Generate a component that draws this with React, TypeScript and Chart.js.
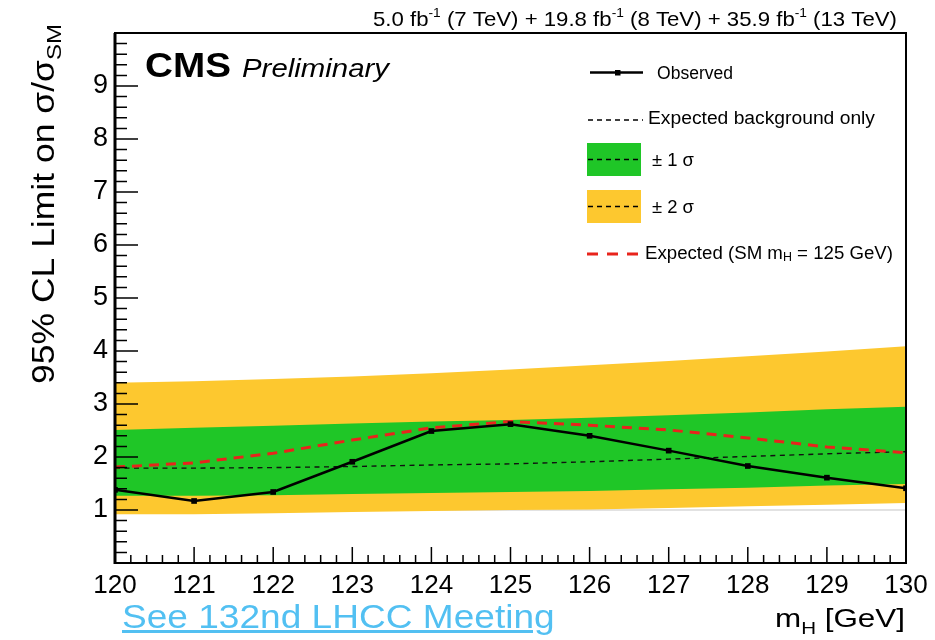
import React, { useEffect, useRef } from 'react';
import { Chart, registerables } from 'chart.js';

Chart.register(...registerables);

// ---------------- data ----------------
const masses = [120, 121, 122, 123, 124, 125, 126, 127, 128, 129, 130];
const observed = [1.38, 1.17, 1.34, 1.91, 2.49, 2.62, 2.40, 2.12, 1.83, 1.61, 1.41];
const expectedBkg = [1.79, 1.79, 1.80, 1.82, 1.85, 1.87, 1.91, 1.96, 2.01, 2.06, 2.10];
const expectedSM = [1.81, 1.89, 2.07, 2.32, 2.55, 2.67, 2.60, 2.51, 2.36, 2.19, 2.08];
const band1Up = [2.51, 2.55, 2.59, 2.63, 2.67, 2.70, 2.74, 2.79, 2.84, 2.90, 2.95];
const band1Lo = [1.27, 1.27, 1.28, 1.30, 1.32, 1.34, 1.36, 1.39, 1.42, 1.46, 1.49];
const band2Up = [3.40, 3.43, 3.47, 3.52, 3.58, 3.65, 3.73, 3.81, 3.90, 3.99, 4.09];
const band2Lo = [0.92, 0.92, 0.94, 0.96, 0.98, 1.00, 1.01, 1.04, 1.07, 1.10, 1.13];
const smRef = [1, 1, 1, 1, 1, 1, 1, 1, 1, 1, 1];

const xMin = 120;
const xMax = 130;
const yMin = 0;
const yMax = 10;
const hiddenYLabels = [0, 10];

const titleText = ['5.0 fb', '-1', ' (7 TeV) + 19.8 fb', '-1', ' (8 TeV) + 35.9 fb', '-1', ' (13 TeV)'];
const legendLabels = ['Observed', 'Expected background only', '\u00b1 1 \u03c3', '\u00b1 2 \u03c3'];

const GREEN = '#1fc627';
const YELLOW = '#fdc82f';
const RED = '#e8241c';
const FONT = "'Liberation Sans', Arial, Helvetica, sans-serif";

type Seg = { t: string; size: number; weight?: string; style?: string; dy?: number };

function fontOf(s: Seg) {
  return `${s.style || 'normal'} ${s.weight || 'normal'} ${s.size}px ${FONT}`;
}

function drawRich(
  ctx: CanvasRenderingContext2D,
  segs: Seg[],
  x: number,
  y: number,
  opts: { width?: number; align?: 'left' | 'right' | 'center'; rotate?: number; color?: string } = {}
) {
  ctx.save();
  ctx.translate(x, y);
  if (opts.rotate) ctx.rotate(opts.rotate);
  let total = 0;
  const ws = segs.map((s) => {
    ctx.font = fontOf(s);
    const w = ctx.measureText(s.t).width;
    total += w;
    return w;
  });
  const sx = opts.width ? opts.width / total : 1;
  const dw = total * sx;
  const start = opts.align === 'right' ? -dw : opts.align === 'center' ? -dw / 2 : 0;
  ctx.translate(start, 0);
  ctx.scale(sx, 1);
  ctx.fillStyle = opts.color || '#000';
  ctx.textAlign = 'left';
  ctx.textBaseline = 'alphabetic';
  let cx = 0;
  segs.forEach((s, i) => {
    ctx.font = fontOf(s);
    ctx.fillText(s.t, cx, s.dy || 0);
    cx += ws[i];
  });
  ctx.restore();
}

const decorPlugin = {
  id: 'decor',
  afterDatasetsDraw(chart: any) {
    const { ctx, chartArea: a, scales } = chart;
    const xs = scales.x;
    const ys = scales.y;
    ctx.save();
    // frame
    ctx.strokeStyle = '#000';
    ctx.lineWidth = 2;
    ctx.strokeRect(a.left, a.top, a.right - a.left, a.bottom - a.top);
    ctx.lineWidth = 3;
    ctx.beginPath();
    ctx.moveTo(a.left, a.top);
    ctx.lineTo(a.left, a.bottom + 1);
    ctx.stroke();
    // inner ticks
    ctx.lineWidth = 1.5;
    ctx.beginPath();
    for (let i = 0; i <= (yMax - yMin) * 5; i++) {
      const v = yMin + i / 5;
      const py = ys.getPixelForValue(v);
      const len = i % 5 === 0 ? 23 : 12;
      ctx.moveTo(a.left, py);
      ctx.lineTo(a.left + len, py);
    }
    for (let i = 0; i <= (xMax - xMin) * 5; i++) {
      const v = xMin + i / 5;
      const px = xs.getPixelForValue(v);
      const len = i % 5 === 0 ? 16 : 8;
      ctx.moveTo(px, a.bottom);
      ctx.lineTo(px, a.bottom - len);
    }
    ctx.stroke();
    ctx.restore();

    // top title
    const tsegs: Seg[] = titleText.map((t, i) =>
      i % 2 === 1 ? { t, size: 13, dy: -9 } : { t, size: 21 }
    );
    drawRich(ctx, tsegs, 897, 26, { width: 524, align: 'right' });

    // CMS Preliminary
    drawRich(ctx, [{ t: 'CMS', size: 35, weight: 'bold' }], 145, 77, { width: 86 });
    drawRich(ctx, [{ t: 'Preliminary', size: 25, style: 'italic' }], 242, 77, { width: 147 });

    // y-axis title
    drawRich(
      ctx,
      [
        { t: '95% CL Limit on \u03c3/\u03c3', size: 31 },
        { t: 'SM', size: 21, dy: 7 },
      ],
      54,
      384,
      { width: 360, rotate: -Math.PI / 2 }
    );

    // x-axis title
    drawRich(
      ctx,
      [
        { t: 'm', size: 26 },
        { t: 'H', size: 17, dy: 7 },
        { t: ' [GeV]', size: 26 },
      ],
      905,
      627,
      { width: 130, align: 'right' }
    );

    // legend
    ctx.save();
    // Observed
    ctx.strokeStyle = '#000';
    ctx.lineWidth = 2.5;
    ctx.beginPath();
    ctx.moveTo(590, 72.5);
    ctx.lineTo(643, 72.5);
    ctx.stroke();
    ctx.fillStyle = '#000';
    ctx.fillRect(615, 70, 5.5, 5.5);
    drawRich(ctx, [{ t: legendLabels[0], size: 18 }], 657, 79, { width: 76 });
    // expected bkg
    ctx.lineWidth = 1.3;
    ctx.setLineDash([5, 4]);
    ctx.beginPath();
    ctx.moveTo(588, 120);
    ctx.lineTo(643, 120);
    ctx.stroke();
    ctx.setLineDash([]);
    drawRich(ctx, [{ t: legendLabels[1], size: 18 }], 648, 124, { width: 227 });
    // 1 sigma / 2 sigma boxes
    ctx.fillStyle = GREEN;
    ctx.fillRect(587, 143, 54, 33);
    ctx.fillStyle = YELLOW;
    ctx.fillRect(587, 190, 54, 33);
    ctx.setLineDash([5, 4]);
    ctx.beginPath();
    ctx.moveTo(588, 159.5);
    ctx.lineTo(641, 159.5);
    ctx.moveTo(588, 206.5);
    ctx.lineTo(641, 206.5);
    ctx.stroke();
    ctx.setLineDash([]);
    drawRich(ctx, [{ t: legendLabels[2], size: 18 }], 652, 166, { width: 42 });
    drawRich(ctx, [{ t: legendLabels[3], size: 18 }], 652, 213, { width: 42 });
    // expected SM
    ctx.strokeStyle = RED;
    ctx.lineWidth = 3;
    ctx.setLineDash([11, 9]);
    ctx.beginPath();
    ctx.moveTo(587, 254);
    ctx.lineTo(640, 254);
    ctx.stroke();
    ctx.setLineDash([]);
    drawRich(
      ctx,
      [
        { t: 'Expected (SM m', size: 18 },
        { t: 'H', size: 12, dy: 2 },
        { t: ' = 125 GeV)', size: 18 },
      ],
      645,
      259,
      { width: 248 }
    );
    ctx.restore();
  },
};

function pts(arr: number[]) {
  return masses.map((m, i) => ({ x: m, y: arr[i] }));
}

export default function App() {
  const ref = useRef<HTMLCanvasElement | null>(null);

  useEffect(() => {
    if (!ref.current) return;
    const chart = new Chart(ref.current, {
      type: 'line',
      data: {
        datasets: [
          {
            label: '2 sigma up',
            data: pts(band2Up),
            borderWidth: 0,
            pointRadius: 0,
            backgroundColor: YELLOW,
            fill: '+1',
            order: 6,
          },
          {
            label: '2 sigma down',
            data: pts(band2Lo),
            borderWidth: 0,
            pointRadius: 0,
            fill: false,
            order: 7,
          },
          {
            label: '1 sigma up',
            data: pts(band1Up),
            borderWidth: 0,
            pointRadius: 0,
            backgroundColor: GREEN,
            fill: '+1',
            order: 4,
          },
          {
            label: '1 sigma down',
            data: pts(band1Lo),
            borderWidth: 0,
            pointRadius: 0,
            fill: false,
            order: 5,
          },
          {
            label: 'SM',
            data: pts(smRef),
            borderColor: '#e2e2e2',
            borderWidth: 2,
            pointRadius: 0,
            fill: false,
            order: 8,
          },
          {
            label: 'Expected background only',
            data: pts(expectedBkg),
            borderColor: '#111',
            borderWidth: 1.4,
            borderDash: [5, 4.5],
            pointRadius: 0,
            fill: false,
            order: 3,
          },
          {
            label: 'Expected (SM mH = 125 GeV)',
            data: pts(expectedSM),
            borderColor: RED,
            borderWidth: 3,
            borderDash: [10, 7],
            pointRadius: 0,
            fill: false,
            order: 2,
          },
          {
            label: 'Observed',
            data: pts(observed),
            borderColor: '#000',
            backgroundColor: '#000',
            borderWidth: 2.5,
            pointStyle: 'rect',
            pointRadius: 4,
            pointBorderWidth: 0,
            fill: false,
            order: 1,
          },
        ],
      },
      options: {
        responsive: false,
        devicePixelRatio: 1,
        animation: false,
        layout: { padding: { left: 0, top: 33, right: 29, bottom: 0 } },
        plugins: {
          legend: { display: false },
          tooltip: { enabled: false },
          filler: { propagate: false },
        },
        elements: { line: { tension: 0 } },
        scales: {
          x: {
            type: 'linear',
            min: xMin,
            max: xMax,
            grid: { display: false, drawTicks: false },
            border: { display: false },
            ticks: {
              stepSize: 1,
              autoSkip: false,
              maxRotation: 0,
              padding: 7,
              color: '#000',
              font: { family: FONT, size: 26 },
            },
            afterFit: (s: any) => {
              s.height = 77;
            },
          },
          y: {
            type: 'linear',
            min: yMin,
            max: yMax,
            grid: { display: false, drawTicks: false },
            border: { display: false },
            ticks: {
              stepSize: 1,
              autoSkip: false,
              padding: 7,
              color: '#000',
              font: { family: FONT, size: 27 },
              callback: (v: any) => (hiddenYLabels.includes(Number(v)) ? '' : String(v)),
            },
            afterFit: (s: any) => {
              s.width = 115;
            },
          },
        },
      },
      plugins: [decorPlugin],
    } as any);
    return () => chart.destroy();
  }, []);

  return (
    <div style={{ position: 'absolute', left: 0, top: 0, width: 935, height: 640, background: '#fff', overflow: 'hidden' }}>
      <canvas ref={ref} width={935} height={640} style={{ display: 'block', width: 935, height: 640 }} />
      <a
        href="#"
        style={{
          position: 'absolute',
          left: 122,
          top: 599,
          fontFamily: FONT,
          fontSize: 34,
          lineHeight: '34px',
          color: '#52c0f2',
          textDecoration: 'underline',
          whiteSpace: 'nowrap',
          transform: 'scaleX(1.09)',
          transformOrigin: 'left top',
        }}
      >
        See 132nd LHCC Meeting
      </a>
    </div>
  );
}
